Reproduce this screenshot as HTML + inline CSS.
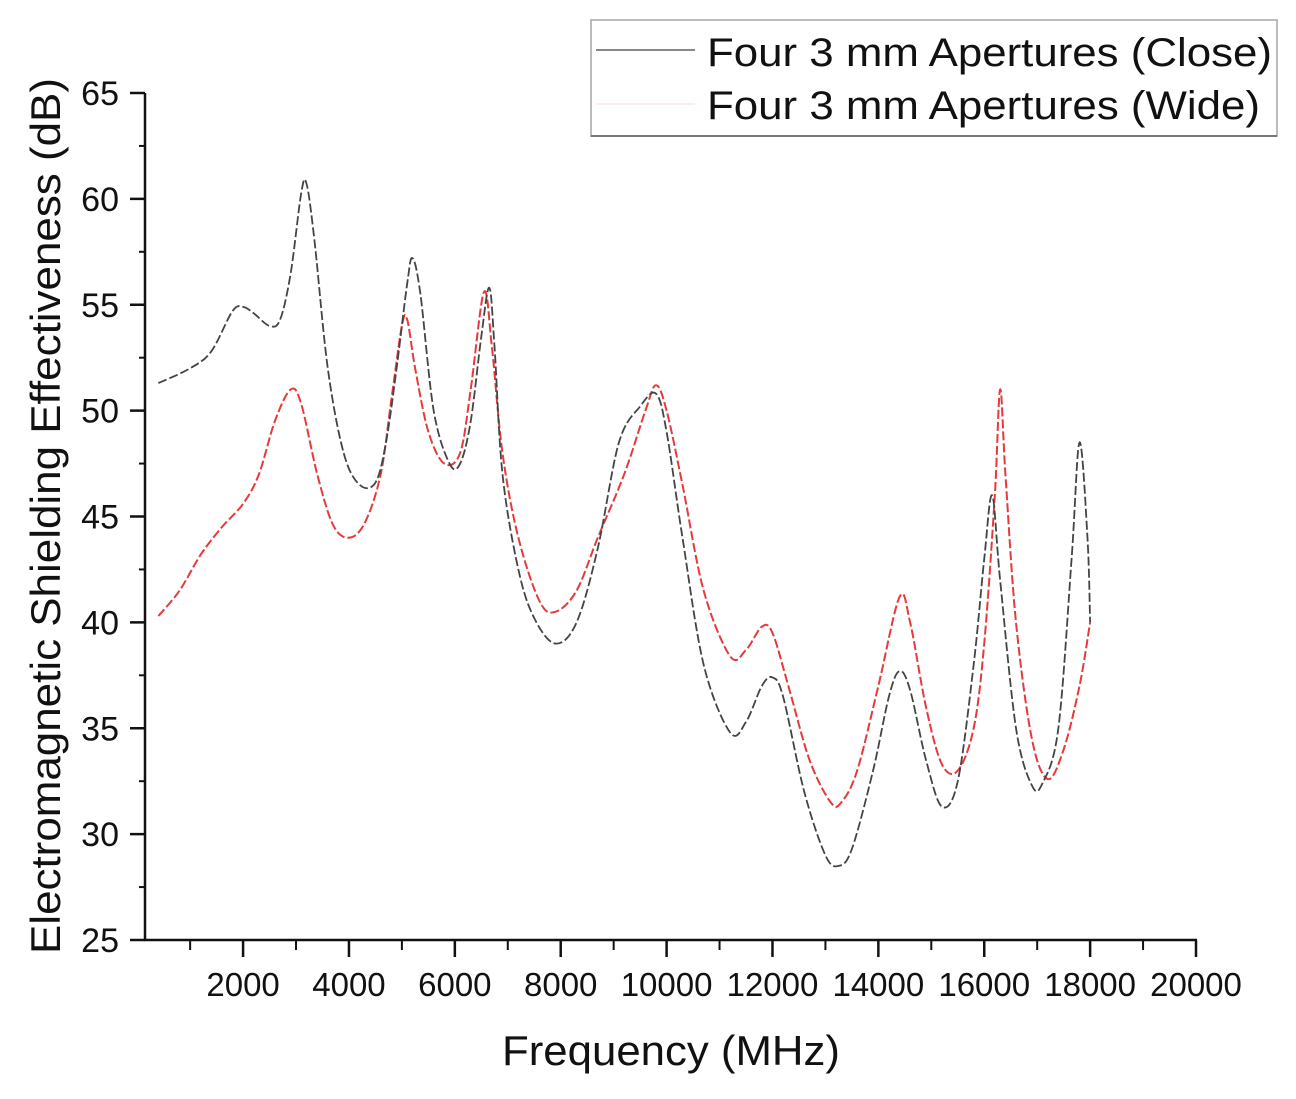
<!DOCTYPE html>
<html><head><meta charset="utf-8"><style>
html,body{margin:0;padding:0;background:#fff}
svg{display:block;font-family:"Liberation Sans",sans-serif}
</style></head><body>
<svg id="chart" width="1296" height="1099" viewBox="0 0 1296 1099" xmlns="http://www.w3.org/2000/svg">
<g id="axes"></g>
<g id="series"></g>
<text x="671" y="1065" font-size="42" text-anchor="middle" fill="#111" textLength="338" lengthAdjust="spacingAndGlyphs">Frequency (MHz)</text>
<text transform="translate(60,516) rotate(-90)" font-size="42" text-anchor="middle" fill="#111" textLength="876" lengthAdjust="spacingAndGlyphs">Electromagnetic Shielding Effectiveness (dB)</text>
<g>
<rect x="591" y="20" width="686" height="116" fill="#fff" stroke="#bbb" stroke-width="2"/>
<line x1="591" y1="136" x2="1277" y2="136" stroke="#777" stroke-width="2"/>
<line x1="596" y1="50" x2="695" y2="50" stroke="#888" stroke-width="2"/>
<text x="707" y="66" font-size="40" fill="#111" textLength="565" lengthAdjust="spacingAndGlyphs">Four 3 mm Apertures (Close)</text>
<line x1="596" y1="104" x2="695" y2="104" stroke="#fbe5e5" stroke-width="1.5"/>
<text x="707" y="119" font-size="40" fill="#111" textLength="553" lengthAdjust="spacingAndGlyphs">Four 3 mm Apertures (Wide)</text>
</g>
</svg>
<script>
const xTicks=[2000,4000,6000,8000,10000,12000,14000,16000,18000,20000];
const yTicks=[25,30,35,40,45,50,55,60,65];
const closeFreq=[400,1000,1400,1800,2000,2200,2500,2700,2900,3100,3200,3350,3600,3900,4200,4500,4700,4900,5100,5200,5350,5600,5900,6100,6300,6500,6650,6750,6900,7200,7500,7900,8300,8700,9100,9500,9800,10000,10300,10700,11200,11500,11800,12000,12200,12600,13000,13250,13500,13900,14200,14400,14600,14900,15200,15500,15800,16000,16150,16300,16600,16900,17100,17400,17650,17800,17950,18000];
const closeSE=[51.3,52.0,52.8,54.7,54.9,54.6,54.0,54.3,56.5,60.3,60.7,58,52,48,46.5,46.6,48.5,52,56,57.2,55.5,50,47.5,47.5,49.5,53.5,55.8,53,47,42.5,40.2,39.0,40,43.5,48.5,50.2,50.8,49,44,38,34.8,35.3,37,37.4,36.5,32,29,28.5,29.3,33,36.5,37.7,36.8,33.5,31.3,32.5,38,43,46,42,35,32.3,32.4,35,43,48.5,44,40];
const wideFreq=[400,800,1200,1600,2000,2300,2600,2900,3100,3400,3700,4000,4300,4600,4800,5000,5100,5250,5500,5800,6100,6300,6550,6700,6900,7200,7600,7900,8300,8700,9200,9600,9800,10000,10300,10700,11200,11500,11800,12000,12300,12700,13100,13300,13600,14000,14400,14600,14900,15200,15500,15800,16000,16200,16300,16400,16600,16900,17200,17500,17800,18000];
const wideSE=[40.3,41.5,43.2,44.5,45.6,47,49.5,51,50.3,47,44.6,44,44.7,47,50.5,54,54.3,52,49,47.5,48,51,55.6,53,48,44,41,40.5,41.5,44,47,50,51.2,50,46.5,41.5,38.4,38.7,39.8,39.5,37,33.5,31.5,31.5,33,37,41.2,40,36,33.3,33,35,39,46,51,47,40,34.5,32.6,34,37,40];

const X=v=>137.2+v*(1196-137.2)/20000;
const Y=v=>940-(v-25)*(940-93)/40;
const NS="http://www.w3.org/2000/svg";
const axes=document.getElementById('axes');
function mk(tag,attrs,parent){const e=document.createElementNS(NS,tag);for(const k in attrs)e.setAttribute(k,attrs[k]);parent.appendChild(e);return e;}
const yl=mk('line',{x1:145,y1:93,x2:145,y2:941,stroke:'#111','stroke-width':2.5},axes);


const xl=mk('line',{x1:144,y1:940,x2:1197,y2:940,stroke:'#111','stroke-width':2.5},axes);


yTicks.forEach((v,i)=>{
  mk('line',{x1:130,y1:Y(v),x2:145,y2:Y(v),stroke:'#111','stroke-width':2.5},axes);
  if(i<yTicks.length-1) mk('line',{x1:139,y1:Y(v+2.5),x2:145,y2:Y(v+2.5),stroke:'#111','stroke-width':2},axes);
  const t=mk('text',{x:119,y:Y(v)+12,'font-size':34,'text-anchor':'end',fill:'#111'},axes);
  t.textContent=v;
  
  
});
xTicks.forEach(v=>{
  mk('line',{x1:X(v),y1:940,x2:X(v),y2:957,stroke:'#111','stroke-width':2.5},axes);
  mk('line',{x1:X(v-1000),y1:940,x2:X(v-1000),y2:950,stroke:'#111','stroke-width':2},axes);
  const t=mk('text',{x:X(v),y:996,'font-size':33,'text-anchor':'middle',fill:'#111'},axes);
  t.textContent=v;
  
  
});
function smooth(xs,ys){
  const p=xs.map((x,i)=>[X(x),Y(ys[i])]);
  let d='M'+p[0][0]+','+p[0][1];
  for(let i=0;i<p.length-1;i++){
    const p0=p[Math.max(0,i-1)],p1=p[i],p2=p[i+1],p3=p[Math.min(p.length-1,i+2)];
    const c1=[p1[0]+(p2[0]-p0[0])/6,p1[1]+(p2[1]-p0[1])/6];
    const c2=[p2[0]-(p3[0]-p1[0])/6,p2[1]-(p3[1]-p1[1])/6];
    d+=' C'+c1[0]+','+c1[1]+' '+c2[0]+','+c2[1]+' '+p2[0]+','+p2[1];
  }
  return d;
}
const ser=document.getElementById('series');
const w=mk('path',{d:smooth(wideFreq,wideSE),fill:'none',stroke:'#e8393a','stroke-width':2,'stroke-dasharray':'9 3'},ser);


const c=mk('path',{d:smooth(closeFreq,closeSE),fill:'none',stroke:'#444','stroke-width':1.8,'stroke-dasharray':'9 3'},ser);


</script>
</body></html>
